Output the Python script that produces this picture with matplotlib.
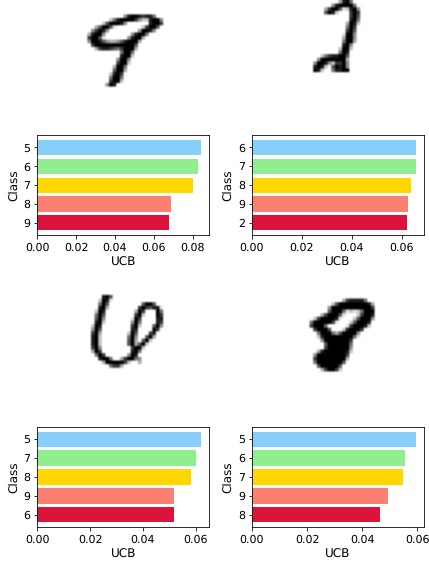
import numpy as np
import matplotlib
matplotlib.use("Agg")
import matplotlib.pyplot as plt

W, H = 429, 564

plt.rcParams["text.hinting"] = "no_hinting"
plt.rcParams["text.hinting_factor"] = 1

BAR_COLORS = ["lightskyblue", "lightgreen", "gold", "salmon", "crimson"]

classes_a = ["5", "6", "7", "8", "9"]
classes_b = ["6", "7", "8", "9", "2"]
classes_c = ["5", "7", "8", "9", "6"]
classes_d = ["5", "6", "7", "9", "8"]

ucb_a = [0.0843, 0.0827, 0.0802, 0.0688, 0.0678]
ucb_b = [0.0656, 0.0656, 0.0636, 0.0624, 0.0620]
ucb_c = [0.0620, 0.0601, 0.0582, 0.0518, 0.0517]
ucb_d = [0.0595, 0.0555, 0.0548, 0.0493, 0.0464]

# grey levels of the 28x28 digits, . is blank and 9 is full ink
digit_a = ["", "", "", "",
           "..............489987885",
           "..........258999974228994",
           "........2699984......8997",
           "......369961.......27996",
           ".....47984........49984",
           "....38994.......48995",
           "....79961......48993",
           "....499864334689993",
           ".....7999999999996",
           "......378876579993",
           ".............5995",
           ".............8992",
           "............4994",
           "............7992",
           "...........3995",
           "...........6993",
           "..........2897",
           "..........5995",
           "..........7992",
           ".........498"]

digit_b = ["..............3895",
           "............4899995",
           "..........3799612894",
           "..........6982...797",
           ".................796",
           ".................895",
           "................3982",
           "................597",
           "................796",
           "...............1994",
           "...............3994",
           "...............5993",
           "...............894",
           "..............2992",
           "..............598",
           ".........25788996",
           "........499999993",
           ".......4998427794",
           ".......8982.69894",
           ".......982..58899"]

digit_c = ["", "", "",
           "........896",
           ".......2981",
           ".......596.........6996",
           ".......893........7976881",
           "......298........397...95",
           "......596........792...97",
           "......694.......197....88",
           "......892.......495....87",
           ".....298........792...694",
           ".....496........88....97",
           ".....793.......296...78",
           ".....892.......594..693",
           ".....892.......693.692",
           ".....892.......693692",
           ".....794........7992",
           ".....397........895",
           "......597......498",
           ".......8995..379954",
           "........39999972..3",
           "..........5773"]

digit_d = ["", "", "", "",
           "...............3788885",
           "............269999999983",
           "...........4999999999997",
           "...........6999512125999",
           ".........3799961...27998",
           ".......27999981...269994",
           "......59999971...269998",
           "......79995.....1799982",
           ".......79996...289997",
           "........599953699994",
           "........289999999951",
           ".........499999997",
           "..........69999995",
           "..........79999994",
           "........3899999982",
           ".......4999999997",
           ".......7999999993",
           ".......599999996",
           "........6999996",
           ".........379972"]


def to_image(rows):
    img = np.zeros((28, 28))
    for r, row in enumerate(rows):
        for c, ch in enumerate(row):
            if ch != ".":
                img[r, c] = int(ch) / 9
    return img


def px_axes(fig, left, top, right, bottom):
    return fig.add_axes([left / W, 1 - bottom / H, (right - left) / W, (bottom - top) / H])


fig = plt.figure(figsize=(W / 72, H / 72), dpi=72)

panels = [
    (digit_a, classes_a, ucb_a, 72.7, 0, 37.3, 135.3, 235),
    (digit_b, classes_b, ucb_b, 287.5, 0, 252, 135.3, 235),
    (digit_c, classes_c, ucb_c, 72.7, 285, 37.3, 427, 527),
    (digit_d, classes_d, ucb_d, 287.5, 285, 252, 427, 527),
]

for digit, classes, ucb, ix, iy, bx, btop, bbot in panels:
    ax_img = px_axes(fig, ix, iy, ix + 101, iy + 101)
    ax_img.imshow(to_image(digit), cmap="gray_r", vmin=0, vmax=1, interpolation="hanning")
    ax_img.axis("off")

    ax = px_axes(fig, bx, btop, bx + 172, bbot)
    ax.barh(classes, ucb, color=BAR_COLORS)
    ax.invert_yaxis()
    ax.tick_params(labelsize=10.5)
    ax.set_xlabel("UCB", fontsize=12)
    ax.set_ylabel("Class", fontsize=12)

fig.savefig("out.png", dpi=72)
